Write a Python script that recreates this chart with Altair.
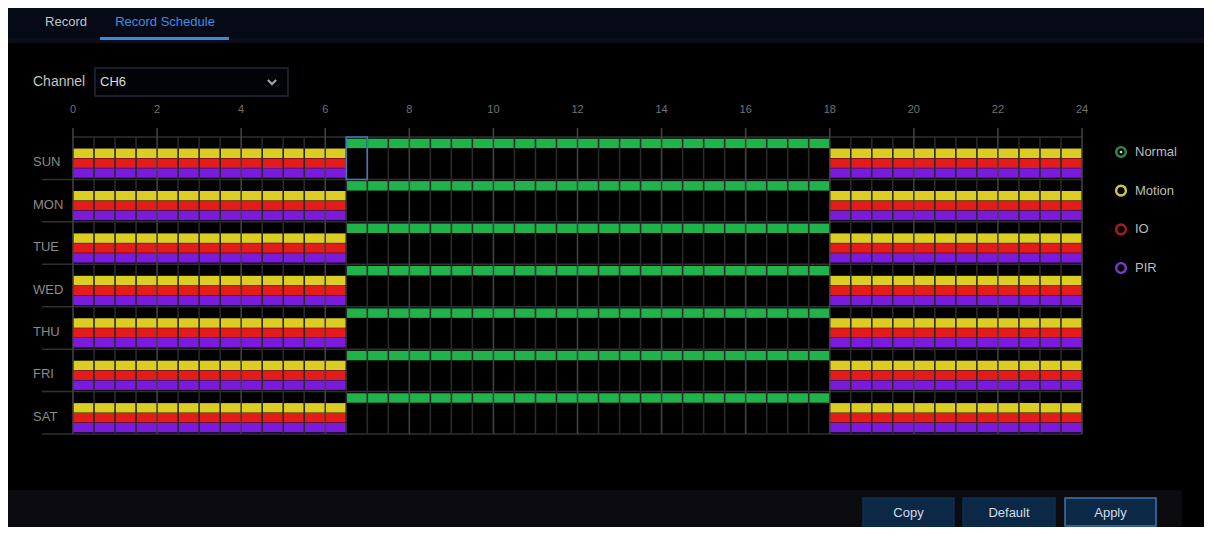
import altair as alt
import pandas as pd

# ---------------- data ----------------
days = ["SUN", "MON", "TUE", "WED", "THU", "FRI", "SAT"]
hour_labels = [0, 2, 4, 6, 8, 10, 12, 14, 16, 18, 20, 22, 24]
record_types = ["Normal", "Motion", "IO", "PIR"]
alarm_types = ["Motion", "IO", "PIR"]
type_colors = ["#20b24b", "#dccd24", "#e41b1b", "#7a1bdc"]
ring_colors = ["#2c8c48", "#cfcb38", "#a81c1c", "#7c38cc"]

# per-day schedule: "Normal" recording window, alarm recording outside it
normal_from = [6.5, 6.5, 6.5, 6.5, 6.5, 6.5, 6.5]
normal_to = [18, 18, 18, 18, 18, 18, 18]
slot_hours = 0.5

selected_day = ["SUN"]
selected_from = [6.5]
selected_to = [7.0]

tabs = ["Record", "Record Schedule"]
channel_label = "Channel"
channel_value = "CH6"
buttons = ["Copy", "Default", "Apply"]

# ---------------- tables ----------------
rows = []
for d, nf, nt in zip(days, normal_from, normal_to):
    for k in range(int(24 / slot_hours)):
        s = k * slot_hours
        types = ["Normal"] if nf <= s < nt else alarm_types
        for t in types:
            rows.append({"day": d, "type": t, "start": s, "end": s + slot_hours})
cells_df = pd.DataFrame(rows)

grid_hours = [k * slot_hours for k in range(int(24 / slot_hours) + 1)]
grid_df = pd.DataFrame({"h": grid_hours, "major": [h % 2 == 0 for h in grid_hours]})
days_df = pd.DataFrame({"day": days})
hours_df = pd.DataFrame({"h": hour_labels, "lbl": [str(h) for h in hour_labels]})
sel_df = pd.DataFrame({"day": selected_day, "start": selected_from, "end": selected_to})
legend_df = pd.DataFrame({"type": record_types})
one = pd.DataFrame({"k": [0]})

FONT = "Liberation Sans"
W, H = 1196, 519
X = alt.Scale(domain=[0, 24], range=[65, 1074])
Y = alt.Scale(domain=days, range=[129, 426], paddingInner=0, paddingOuter=0)

# ---------------- UI frame ----------------
tabbar = alt.Chart(one).mark_rect(color="#050a16").encode(
    x=alt.value(0), x2=alt.value(W), y=alt.value(0), y2=alt.value(34))
tabline = alt.Chart(one).mark_rect(color="#0d0d1a").encode(
    x=alt.value(0), x2=alt.value(W), y=alt.value(30), y2=alt.value(35))
tab_ul = alt.Chart(one).mark_rect(color="#3a8ad6").encode(
    x=alt.value(92), x2=alt.value(221), y=alt.value(29), y2=alt.value(32))
tab1 = alt.Chart(one).mark_text(text=tabs[0], font=FONT, fontSize=13, color="#c4c4c4").encode(
    x=alt.value(58), y=alt.value(14))
tab2 = alt.Chart(one).mark_text(text=tabs[1], font=FONT, fontSize=13, color="#3d8ee0").encode(
    x=alt.value(157), y=alt.value(14))

chan_txt = alt.Chart(one).mark_text(text=channel_label, font=FONT, fontSize=14, color="#c4c4c4",
                                    align="left").encode(x=alt.value(25), y=alt.value(74))
chan_box = alt.Chart(one).mark_rect(fill="#020306", stroke="#1e2a3a", strokeWidth=1.5).encode(
    x=alt.value(87), x2=alt.value(280), y=alt.value(60), y2=alt.value(88))
chan_val = alt.Chart(one).mark_text(text=channel_value, font=FONT, fontSize=13, color="#dcdcdc",
                                    align="left").encode(x=alt.value(92), y=alt.value(74))
chevron = alt.Chart(one).mark_point(shape="M-1,-0.5L0,0.5L1,-0.5", filled=False, stroke="#e0e0e0",
                                    strokeWidth=2.2, size=70).encode(x=alt.value(264), y=alt.value(74))

bottom = alt.Chart(one).mark_rect(color="#0b0b10").encode(
    x=alt.value(0), x2=alt.value(1174), y=alt.value(482), y2=alt.value(H))

btn_layers = []
for lbl, x0, x1, edge in zip(buttons, [855, 955, 1057], [946, 1047, 1148],
                             ["#0e2f50", "#0e2f50", "#4274ad"]):
    btn_layers.append(alt.Chart(one).mark_rect(fill="#0b2946", stroke=edge, strokeWidth=1.5).encode(
        x=alt.value(x0), x2=alt.value(x1), y=alt.value(490), y2=alt.value(H - 1)))
    btn_layers.append(alt.Chart(one).mark_text(text=lbl, font=FONT, fontSize=13, color="#d4dbe3").encode(
        x=alt.value((x0 + x1) / 2), y=alt.value(505)))

# ---------------- schedule grid ----------------
seps = alt.Chart(days_df).mark_rule(color="#303030", strokeWidth=1.5).encode(
    y=alt.Y("day:N", scale=Y, axis=None, bandPosition=1),
    x=alt.value(34), x2=alt.value(1074))
top_line = alt.Chart(days_df.head(1)).mark_rule(color="#303030", strokeWidth=1.5).encode(
    y=alt.Y("day:N", scale=Y, axis=None, bandPosition=0),
    x=alt.value(65), x2=alt.value(1074))

cells = alt.Chart(cells_df).mark_bar(cornerRadius=0).encode(
    x=alt.X("start:Q", scale=X, axis=None),
    x2="end:Q",
    y=alt.Y("day:N", scale=Y, axis=None),
    yOffset=alt.YOffset("type:N", scale=alt.Scale(domain=record_types, paddingInner=0.04,
                                                    paddingOuter=0.17)),
    color=alt.Color("type:N", scale=alt.Scale(domain=record_types, range=type_colors), legend=None),
)

minor = alt.Chart(grid_df).transform_filter("!datum.major").mark_rule(
    color="#2a2a2a", strokeWidth=1.6).encode(
    x=alt.X("h:Q", scale=X, axis=None), y=alt.value(129), y2=alt.value(426))
major = alt.Chart(grid_df).transform_filter("datum.major").mark_rule(
    color="#414141", strokeWidth=1.6).encode(
    x=alt.X("h:Q", scale=X, axis=None), y=alt.value(120), y2=alt.value(426))

hour_txt = alt.Chart(hours_df).mark_text(font=FONT, fontSize=11, color="#727272").encode(
    x=alt.X("h:Q", scale=X, axis=None), y=alt.value(102), text="lbl:N")
day_txt = alt.Chart(days_df).mark_text(font=FONT, fontSize=13, color="#8a8a8a", align="left",
                                       dy=4).encode(
    y=alt.Y("day:N", scale=Y, axis=None), x=alt.value(25), text="day:N")

sel = alt.Chart(sel_df).mark_rect(fillOpacity=0, stroke="#3b7db8", strokeWidth=1.6).encode(
    x=alt.X("start:Q", scale=X, axis=None), x2="end:Q",
    y=alt.Y("day:N", scale=Y, axis=None))

# ---------------- legend ----------------
LY = alt.Scale(type="point", domain=record_types, range=[144, 260], padding=0)
rings = alt.Chart(legend_df).mark_point(shape="circle", filled=False, strokeWidth=2.4, size=95,
                                        opacity=1).encode(
    y=alt.Y("type:N", scale=LY, axis=None), x=alt.value(1113),
    stroke=alt.Stroke("type:N", scale=alt.Scale(domain=record_types, range=ring_colors), legend=None))
dot = alt.Chart(legend_df).transform_filter("datum.type == 'Normal'").mark_point(
    shape="circle", filled=True, size=7, color="#bfe6c6", opacity=1).encode(
    y=alt.Y("type:N", scale=LY, axis=None), x=alt.value(1113))
leg_txt = alt.Chart(legend_df).mark_text(font=FONT, fontSize=13, color="#bdbdbd", align="left").encode(
    y=alt.Y("type:N", scale=LY, axis=None), x=alt.value(1127), text="type:N")

chart = alt.layer(
    tabbar, tabline, tab_ul, tab1, tab2, chan_box, chan_txt, chan_val, chevron, bottom, *btn_layers,
    seps, top_line, cells, minor, major, hour_txt, day_txt, sel, rings, dot, leg_txt,
).resolve_scale(
    x="independent", y="independent", color="independent", stroke="independent"
).properties(
    width=W, height=H, padding=0, background="#000000",
    autosize=alt.AutoSizeParams(type="none"),
).configure_view(stroke=None, fill="#000000")

chart.save("out.html", embed_options={"renderer": "svg", "actions": False})
